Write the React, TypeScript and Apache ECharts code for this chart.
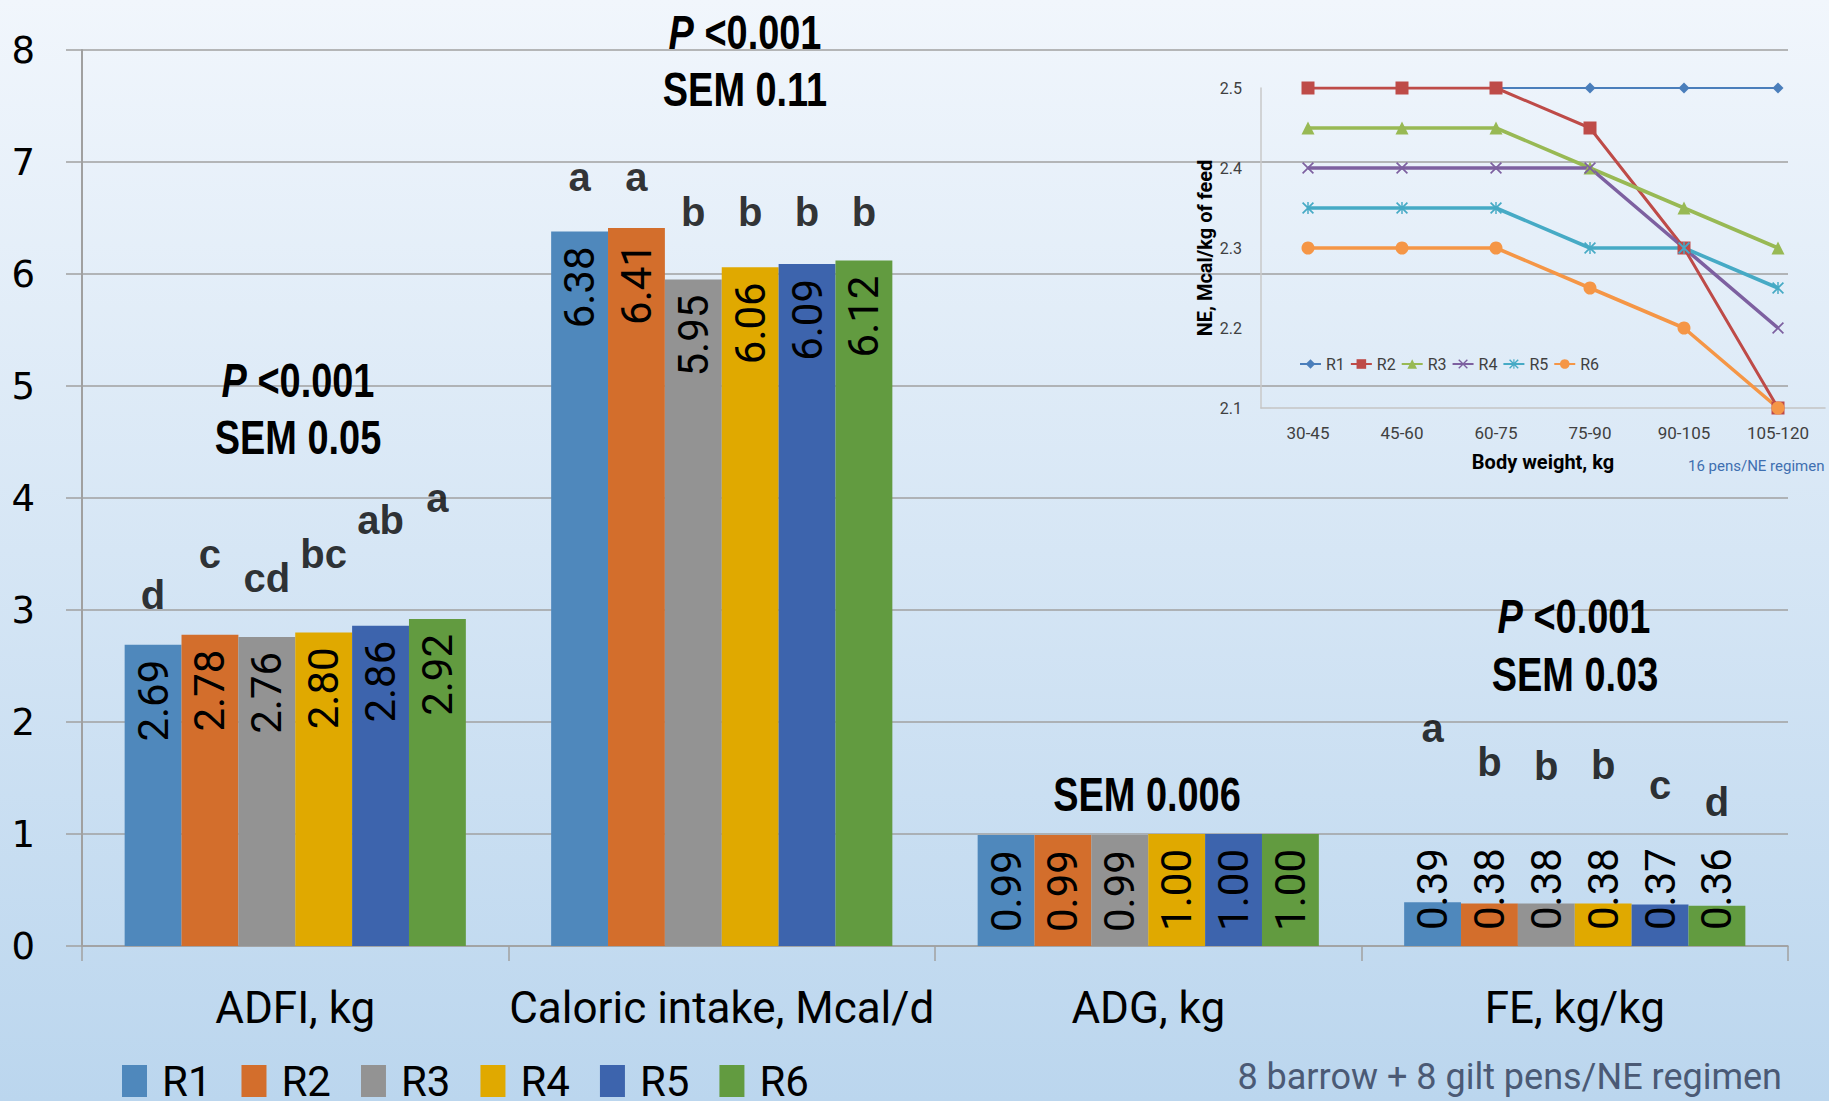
import React, { useEffect, useRef } from 'react';
import * as echarts from 'echarts';

// ---------- Main bar chart data ----------
const categories = ['ADFI, kg', 'Caloric intake, Mcal/d', 'ADG, kg', 'FE, kg/kg'];
const regimens = ['R1', 'R2', 'R3', 'R4', 'R5', 'R6'];
const adfi = [2.69, 2.78, 2.76, 2.8, 2.86, 2.92];
const caloric = [6.38, 6.41, 5.95, 6.06, 6.09, 6.12];
const adg = [0.99, 0.99, 0.99, 1.0, 1.0, 1.0];
const fe = [0.39, 0.38, 0.38, 0.38, 0.37, 0.36];
const yTicks = { min: 0, max: 8, interval: 1 };

// significance letters (per regimen) and their heights on the value axis
const adfiLetters = ['d', 'c', 'cd', 'bc', 'ab', 'a'];
const adfiLetterY = [3.13, 3.5, 3.29, 3.5, 3.8, 4.0];
const caloricLetters = ['a', 'a', 'b', 'b', 'b', 'b'];
const caloricLetterY = [6.87, 6.87, 6.55, 6.55, 6.55, 6.55];
const feLetters = ['a', 'b', 'b', 'b', 'c', 'd'];
const feLetterY = [1.95, 1.64, 1.61, 1.62, 1.44, 1.29];

// ---------- Inset line chart data ----------
const weightClasses = ['30-45', '45-60', '60-75', '75-90', '90-105', '105-120'];
const neR1 = [2.5, 2.5, 2.5, 2.5, 2.5, 2.5];
const neR2 = [2.5, 2.5, 2.5, 2.45, 2.3, 2.1];
const neR3 = [2.45, 2.45, 2.45, 2.4, 2.35, 2.3];
const neR4 = [2.4, 2.4, 2.4, 2.4, 2.3, 2.2];
const neR5 = [2.35, 2.35, 2.35, 2.3, 2.3, 2.25];
const neR6 = [2.3, 2.3, 2.3, 2.25, 2.2, 2.1];
const neSeries = [neR1, neR2, neR3, neR4, neR5, neR6];

// ---------- Styles ----------
const barColors = ['#4f88bc', '#d36e2c', '#939393', '#e0a900', '#3d64ad', '#629b40'];
const lineColors = ['#4a7ebb', '#be4b48', '#98b954', '#7d60a0', '#46aac5', '#f59646'];
const X_PATH = 'path://M1,0L5,4L9,0L10,1L6,5L10,9L9,10L5,6L1,10L0,9L4,5L0,1Z';
const STAR_PATH = 'path://M1,0L5,4L9,0L10,1L6,5L10,9L9,10L5,6L1,10L0,9L4,5L0,1ZM4.4,0L5.6,0L5.6,10L4.4,10Z';
const lineSymbols = ['diamond', 'rect', 'triangle', X_PATH, STAR_PATH, 'circle'];
const lineSymbolSizes = [11, 13, 13, 12, 12, 13];
const lineWidths = [2, 3, 3.6, 3.6, 3.6, 3.6];

const barCenter = (cat: number, i: number) => cat + 0.1 + (i + 0.5) * (0.8 / 6);

export default function App() {
  const ref = useRef<HTMLDivElement>(null);
  useEffect(() => {
    if (!ref.current) return;
    const chart = echarts.init(ref.current, undefined, { renderer: 'svg' });

    const barSeries = regimens.map((r, i) => ({
      name: r,
      type: 'bar',
      xAxisIndex: 0,
      yAxisIndex: 0,
      barGap: '0%',
      barCategoryGap: '20%',
      itemStyle: { color: barColors[i] },
      label: {
        show: true,
        position: 'insideTop',
        distance: 15,
        rotate: 90,
        align: 'right',
        verticalAlign: 'middle',
        fontSize: 42,
        fontFamily: 'Roboto',
        color: '#000',
        formatter: (p: any) => Number(p.value).toFixed(2),
      },
      data: [
        adfi[i],
        caloric[i],
        adg[i],
        { value: fe[i], label: { position: 'insideBottom', align: 'left', distance: 16 } },
      ],
    }));

    const letterData: any[] = [];
    regimens.forEach((_, i) => {
      letterData.push({ value: [barCenter(0, i), adfiLetterY[i]], letter: adfiLetters[i] });
      letterData.push({ value: [barCenter(1, i), caloricLetterY[i]], letter: caloricLetters[i] });
      letterData.push({ value: [barCenter(3, i), feLetterY[i]], letter: feLetters[i] });
    });

    const lineSeries = regimens.map((r, i) => ({
      name: 'NE ' + r,
      type: 'line',
      xAxisIndex: 2,
      yAxisIndex: 1,
      data: neSeries[i],
      symbol: lineSymbols[i],
      symbolSize: lineSymbolSizes[i],
      lineStyle: { width: lineWidths[i], color: lineColors[i] },
      itemStyle: { color: lineColors[i] },
    }));

    const richP = {
      i: { fontStyle: 'italic', fontWeight: 'bold', fontSize: 48, fontFamily: 'Liberation Sans', fill: '#000' },
    };
    const annot = (x: number, y: number, text: string) => ({
      type: 'text',
      x,
      y,
      scaleX: 0.79,
      z: 20,
      style: {
        text,
        fontSize: 48,
        fontWeight: 'bold',
        fontFamily: 'Liberation Sans',
        fill: '#000',
        align: 'center',
        verticalAlign: 'middle',
        rich: richP,
      },
    });

    chart.setOption({
      animation: false,
      backgroundColor: 'transparent',
      textStyle: { fontFamily: 'Roboto' },
      grid: [
        { left: 82, right: 41, top: 50, bottom: 155 },
        { left: 1261, right: 4, top: 88, bottom: 693 },
      ],
      xAxis: [
        {
          type: 'category',
          gridIndex: 0,
          data: categories,
          axisLine: { lineStyle: { color: '#a0a0a0', width: 1.5 } },
          axisTick: { show: true, length: 15, lineStyle: { color: '#a0a0a0', width: 1.5 } },
          axisLabel: { interval: 0, fontSize: 44, color: '#000', margin: 40, fontFamily: 'Roboto' },
        },
        { type: 'value', gridIndex: 0, min: 0, max: 4, show: false },
        {
          type: 'category',
          gridIndex: 1,
          data: weightClasses,
          axisLine: { lineStyle: { color: '#c4c4c4', width: 1.5 } },
          axisTick: { show: false },
          axisLabel: { interval: 0, fontSize: 17, color: '#404040', margin: 16 },
          name: 'Body weight, kg',
          nameLocation: 'middle',
          nameGap: 44,
          nameTextStyle: { fontSize: 20, fontWeight: 'bold', color: '#000' },
        },
      ],
      yAxis: [
        {
          type: 'value',
          gridIndex: 0,
          min: yTicks.min,
          max: yTicks.max,
          interval: yTicks.interval,
          axisLine: { show: true, lineStyle: { color: '#a0a0a0', width: 2 } },
          axisTick: { show: true, length: 16, lineStyle: { color: '#a0a0a0', width: 1.5 } },
          splitLine: { lineStyle: { color: '#a0a0a0', width: 1.5 } },
          axisLabel: { fontSize: 37, fontFamily: 'DejaVu Sans', color: '#000', margin: 47 },
        },
        {
          type: 'value',
          gridIndex: 1,
          min: 2.1,
          max: 2.5,
          interval: 0.1,
          axisLine: { show: true, lineStyle: { color: '#c8c8c8', width: 1.5 } },
          axisTick: { show: false },
          splitLine: { show: false },
          axisLabel: { fontSize: 16, color: '#404040', margin: 19, formatter: (v: number) => v.toFixed(1) },
          name: 'NE, Mcal/kg of feed',
          nameLocation: 'middle',
          nameGap: 46,
          nameTextStyle: { fontSize: 20, fontWeight: 'bold', color: '#000' },
        },
      ],
      legend: [
        {
          data: regimens,
          left: 117,
          top: 1055,
          icon: 'rect',
          itemWidth: 25,
          itemHeight: 32,
          itemGap: 30,
          textStyle: { fontSize: 42, lineHeight: 42, color: '#000', fontFamily: 'Roboto', padding: [0, 0, 0, 10] },
        },
        {
          data: regimens.map((r) => 'NE ' + r),
          formatter: (n: string) => n.replace('NE ', ''),
          left: 1294,
          top: 351,
          itemWidth: 21,
          itemHeight: 12,
          itemGap: 5,
          textStyle: { fontSize: 16, color: '#404040', fontFamily: 'Roboto' },
        },
      ],
      graphic: [
        annot(298, 380, '{i|P} <0.001'),
        annot(298, 437, 'SEM 0.05'),
        annot(745, 32, '{i|P} <0.001'),
        annot(745, 89, 'SEM 0.11'),
        annot(1147, 794, 'SEM 0.006'),
        annot(1574, 616, '{i|P} <0.001'),
        annot(1575, 674, 'SEM 0.03'),
        {
          type: 'text',
          x: 1782,
          y: 1077,
          style: {
            text: '8 barrow + 8 gilt pens/NE regimen',
            fontSize: 36,
            fontFamily: 'Roboto',
            fill: '#4b5a75',
            align: 'right',
            verticalAlign: 'middle',
          },
        },
        {
          type: 'text',
          x: 1688,
          y: 466,
          style: {
            text: '16 pens/NE regimen',
            fontSize: 15,
            fontFamily: 'Roboto',
            fill: '#3f6fb0',
            align: 'left',
            verticalAlign: 'middle',
          },
        },
      ],
      series: [
        ...barSeries,
        {
          name: 'letters',
          type: 'scatter',
          xAxisIndex: 1,
          yAxisIndex: 0,
          symbolSize: 1,
          silent: true,
          itemStyle: { color: 'rgba(0,0,0,0)' },
          label: {
            show: true,
            position: 'inside',
            formatter: (p: any) => p.data.letter,
            fontSize: 40,
            fontWeight: 'bold',
            fontFamily: 'Liberation Sans',
            color: '#000',
          },
          data: letterData,
        },
        ...lineSeries,
      ],
    });
    return () => chart.dispose();
  }, []);

  return (
    <div
      ref={ref}
      style={{
        position: 'fixed',
        left: 0,
        top: 0,
        width: 1829,
        height: 1101,
        background: 'linear-gradient(180deg, #f1f6fc 0%, #bbd6ee 100%)',
      }}
    />
  );
}
